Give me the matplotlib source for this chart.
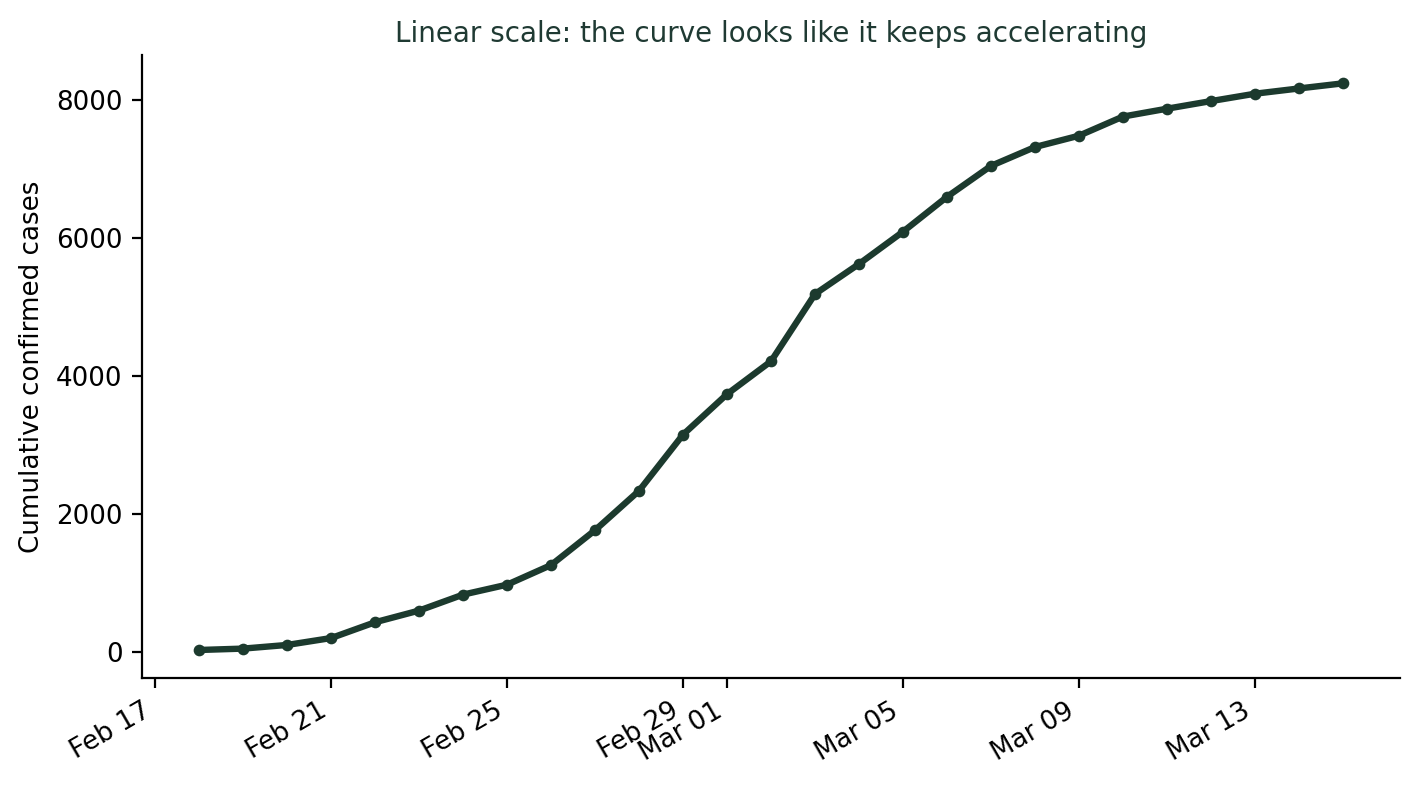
import matplotlib
matplotlib.use("Agg")
import matplotlib.pyplot as plt
import matplotlib.dates as mdates
import pandas as pd

# cumulative confirmed cases, one per day
dates = pd.date_range("2020-02-18", "2020-03-15", freq="D")
cases = [31, 51, 104, 204, 433, 602, 833, 977, 1261, 1766, 2337, 3150, 3736,
         4212, 5186, 5621, 6088, 6593, 7041, 7314, 7478, 7755, 7869, 7979,
         8086, 8162, 8236]

color = "#1c3a2e"
plt.rcParams["font.size"] = 9.4

fig, ax = plt.subplots(figsize=(7.1, 3.93), dpi=200)
ax.plot(dates, cases, "o-", color=color, lw=2.3, ms=3.2)
ax.set_title("Linear scale: the curve looks like it keeps accelerating",
             color="#1f3a33", fontsize=10, pad=4.6)
ax.set_ylabel("Cumulative confirmed cases")
ax.spines["top"].set_visible(False)
ax.spines["right"].set_visible(False)
ax.xaxis.set_major_locator(mdates.AutoDateLocator())
ax.xaxis.set_major_formatter(mdates.DateFormatter("%b %d"))
fig.autofmt_xdate()
fig.subplots_adjust(left=0.1, right=0.986, top=0.93, bottom=0.137)
plt.savefig("out.png")
